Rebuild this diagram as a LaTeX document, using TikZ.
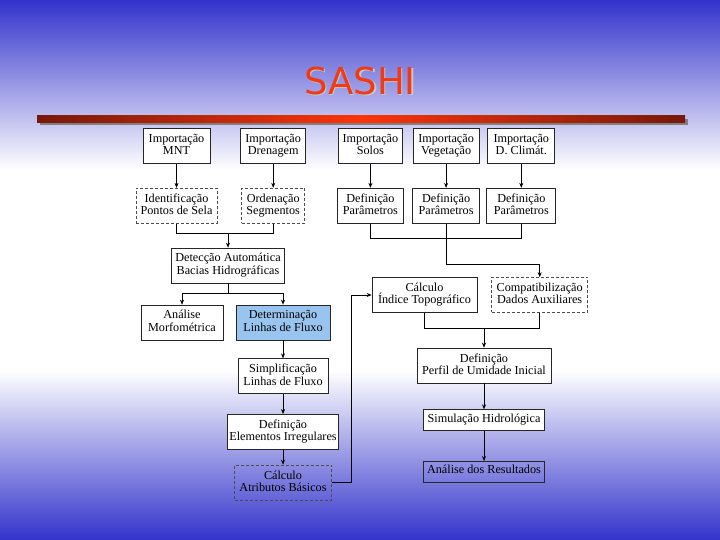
\documentclass[tikz,border=0pt]{standalone}
\usepackage{fontspec}
\setmainfont{Liberation Serif}
\newfontfamily\titlefont{DejaVu Sans}
\usetikzlibrary{arrows.meta, positioning, calc}
\definecolor{slideblue}{RGB}{51,51,204}
\definecolor{titlered}{RGB}{240,58,22}
\definecolor{bardark}{RGB}{120,24,10}
\definecolor{barred}{RGB}{252,52,10}
\definecolor{flowblue}{RGB}{153,196,240}
\newcommand{\topstrut}{\rule{0pt}{19.5pt}}
\newcommand{\botstrut}{\rule[-3pt]{0pt}{3pt}}
\newcommand{\linestrut}{\rule[-8.5pt]{0pt}{21pt}}
\tikzstyle{boxbase} = [rectangle, draw=black!85, line width=0.7pt, fill=white,
                       inner xsep=1pt, inner ysep=0pt,
                       align=center, font=\fontsize{12.2}{12.5}\selectfont]
\tikzstyle{proc}    = [boxbase, minimum height=35pt,
                       execute at begin node=\topstrut, execute at end node=\botstrut]
\tikzstyle{optproc} = [proc, draw=black!70, fill=none, densely dashed]
\tikzstyle{oneline} = [boxbase, minimum height=21pt,
                       execute at begin node=\linestrut, execute at end node=\linestrut]
\tikzstyle{arr}     = [-{Stealth[length=5pt, width=4pt]}, line width=0.6pt]
\tikzstyle{link}    = [line width=0.6pt]

\begin{document}
\begin{tikzpicture}[x=1pt, y=1pt, node distance=24pt]
    \useasboundingbox (0,0) rectangle (720,540);
    % slide background
    \fill[white] (0,0) rectangle (720,540);
    \shade[top color=slideblue, bottom color=white] (0,370) rectangle (720,540);
    \shade[top color=white, bottom color=slideblue] (0,0) rectangle (720,170);

    \node[font=\titlefont\fontsize{37}{40}\selectfont, text=black!22] (titleshadow) at (361.5,457.5) {SASHI};
    \node[font=\titlefont\fontsize{37}{40}\selectfont, text=titlered] (title) at (360,459) {SASHI};
    \fill[black!50] (40,414.5) rectangle (688,421);
    \shade[left color=bardark, right color=bardark, middle color=barred] (37,417.5) rectangle (685,424);

    % imports
    \node[proc, minimum width=67pt] (mnt) at (176.5,394) {Importação\\MNT};
    \node[proc, minimum width=65pt, right=30pt of mnt]  (dren)  {Importação\\Drenagem};
    \node[proc, minimum width=64pt, right=32pt of dren] (solos) {Importação\\Solos};
    \node[proc, minimum width=66pt, right=10pt of solos] (veg)  {Importação\\Vegetação};
    \node[proc, minimum width=67pt, right=8pt of veg]   (clim)  {Importação\\D. Climát.};

    \node[optproc, minimum width=81pt, below=of mnt]  (ident) {Identificação\\Pontos de Sela};
    \node[optproc, minimum width=63pt, below=of dren] (orden) {Ordenação\\Segmentos};
    \node[proc, minimum width=66pt, below=of solos] (def1) {Definição\\Parâmetros};
    \node[proc, minimum width=67pt, below=of veg]   (def2) {Definição\\Parâmetros};
    \node[proc, minimum width=69pt, below=of clim]  (def3) {Definição\\Parâmetros};

    % left branch
    \node[proc, minimum width=113pt] (detec) at (228,274.5) {Detecção Automática\\Bacias Hidrográficas};
    \node[proc, minimum width=82pt] (morf) at (182,217.5) {Análise\\Morfométrica};
    \node[proc, minimum width=94pt, fill=flowblue] (linhas) at (283,217.5) {Determinação\\Linhas de Fluxo};
    \node[proc, minimum width=90pt, below=18pt of linhas] (simpl) {Simplificação\\Linhas de Fluxo};
    \node[proc, minimum width=111pt, below=20pt of simpl] (elem) {Definição\\Elementos Irregulares};
    \node[optproc, minimum width=97pt, below=15pt of elem] (atrib) {Cálculo\\Atributos Básicos};

    % right branch
    \node[proc, minimum width=105pt] (indice) at (424.5,245) {Cálculo\\Índice Topográfico};
    \node[optproc, minimum width=96pt, right=14pt of indice] (compat) {Compatibilização\\Dados Auxiliares};
    \node[proc, minimum width=134pt] (perfil) at (484,174.5) {Definição\\Perfil de Umidade Inicial};
    \node[oneline, minimum width=121pt, below=26pt of perfil] (simul) {Simulação Hidrológica};
    \node[oneline, minimum width=121pt, minimum height=20pt, fill=none, below=30pt of simul] (result) {Análise dos Resultados};

    \coordinate (jA) at ($(detec.north)+(0,14)$);
    \coordinate (jB) at ($(def2.south)+(0,-15)$);
    \coordinate (jD) at ($(detec.south)+(0,-10)$);
    \coordinate (jE) at ($(perfil.north |- indice.south)+(0,-15)$);

    \draw[arr] (mnt) -- (ident);
    \draw[arr] (dren) -- (orden);
    \draw[arr] (solos) -- (def1);
    \draw[arr] (veg) -- (def2);
    \draw[arr] (clim) -- (def3);

    \draw[link] (ident.south) |- (jA) -| (orden.south);
    \draw[arr] (jA) -- (detec);
    \draw[link] (def1.south) |- (jB) -| (def3.south);
    \draw[arr] (def2.south) -- ++(0,-41) -| (compat.north);

    \draw[link] (detec.south) -- (jD);
    \draw[arr] (jD) -| (morf.north);
    \draw[arr] (jD) -| (linhas.north);
    \draw[arr] (linhas) -- (simpl);
    \draw[arr] (simpl) -- (elem);
    \draw[arr] (elem) -- (atrib);
    \draw[arr] (atrib.east) -- ++(19,0) |- (indice.west);

    \draw[link] (indice.south) |- (jE) -| (compat.south);
    \draw[arr] (jE) -- (perfil);
    \draw[arr] (perfil) -- (simul);
    \draw[arr] (simul) -- (result);
\end{tikzpicture}
\end{document}
